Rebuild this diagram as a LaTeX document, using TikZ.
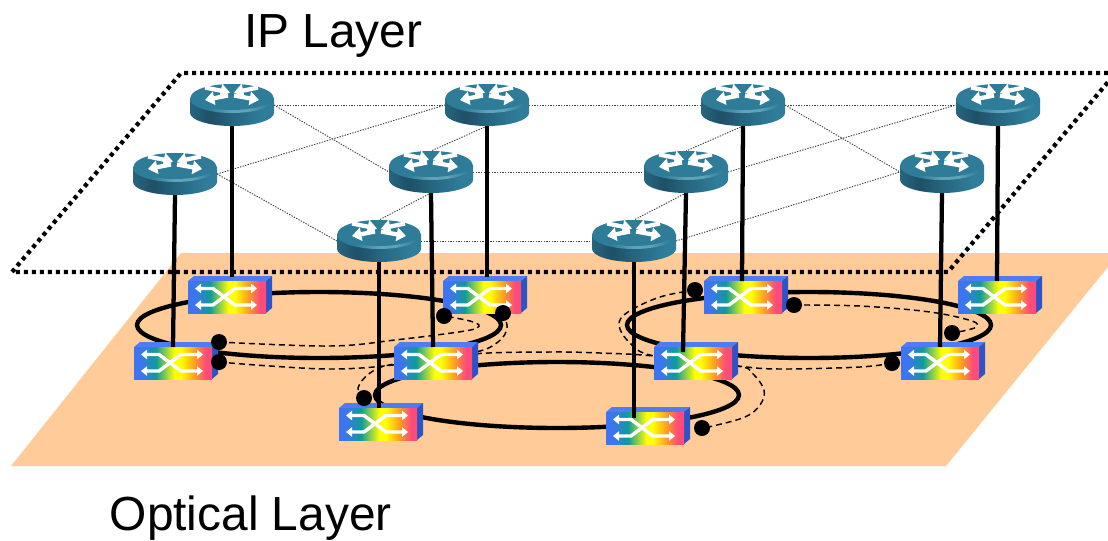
\documentclass[tikz,border=0pt]{standalone}
\usepackage{fontspec}
\setmainfont{Liberation Sans}
\usetikzlibrary{arrows.meta,shapes.geometric}
\definecolor{planeorange}{HTML}{FFCB98}
\definecolor{rtop}{HTML}{2E7C98}
\definecolor{rrim}{HTML}{5FA3B6}
\definecolor{rdark}{HTML}{1F5066}
\definecolor{rmid}{HTML}{266580}
\definecolor{rlight}{HTML}{2F7D9A}
\definecolor{oa}{HTML}{3D74F2}
\definecolor{ob}{HTML}{0F9C98}
\definecolor{oc}{HTML}{FFFF00}
\definecolor{od}{HTML}{FF9A22}
\definecolor{oe}{HTML}{FF4A7C}
\definecolor{otop}{HTML}{4F7CF2}
\definecolor{oside}{HTML}{2C54C6}
\pgfdeclarehorizontalshading{oxcgrad}{100bp}{color(0bp)=(oa); color(29bp)=(oa); color(39bp)=(ob); color(51bp)=(oc); color(55bp)=(oc); color(64bp)=(od); color(71bp)=(oe); color(100bp)=(oe)}
\pgfdeclarehorizontalshading{rbody}{100bp}{color(0bp)=(rmid); color(25bp)=(rmid); color(37bp)=(rdark); color(50bp)=(rmid); color(68bp)=(rlight); color(100bp)=(rlight)}
\pgfdeclarehorizontalshading{rimgrad}{100bp}{color(0bp)=(rtop); color(36bp)=(rtop); color(50bp)=(rrim); color(60bp)=(rrim); color(72bp)=(rtop); color(100bp)=(rtop)}
\tikzset{
  rbox/.style={rectangle,minimum width=63pt,minimum height=31.5pt,inner sep=0pt,outer sep=0pt},
  sbox/.style={rectangle,minimum width=58.5pt,minimum height=24pt,inner sep=0pt,outer sep=0pt},
  ring/.style={ellipse,draw=black,line width=3.3pt,minimum width=273pt,minimum height=49.5pt,inner sep=0pt},
  meshline/.style={black!75,line width=.7pt,dash pattern=on 1pt off 1pt},
  planeline/.style={black,line width=3.2pt,dash pattern=on 3pt off 3pt},
  dashline/.style={black,line width=1.1pt,dash pattern=on 4.5pt off 3pt},
  link/.style={black,line width=3.2pt},
  blackdot/.style={circle,minimum size=12pt,inner sep=0pt},
  layertext/.style={anchor=base west,inner sep=0pt,font=\fontsize{35.9pt}{40pt}\selectfont},
  rarrow/.style={white,line width=3.2pt,-{Triangle[length=7pt,width=10pt]}},
  sarrow/.style={white,line width=2.6pt,{Triangle[length=4.5pt,width=7pt]}-{Triangle[length=4.5pt,width=7pt]}}
}
\newcommand{\drawrouter}[1]{%
  \begin{scope}[shift={(#1.center)}]
    \shade[shading=rbody] (-42,-7) -- (-42,8) .. controls (-42,15) and (-23,21) .. (0,21)
      .. controls (23,21) and (42,15) .. (42,8) -- (42,-7) -- cycle;
    \shade[shading=rimgrad] (0,-6) ellipse [x radius=42,y radius=14];
    \fill[rtop] (0,-8) ellipse [x radius=41,y radius=13];
    \draw[rarrow] (-27,-17.5) -- (-2,-12.5);
    \draw[rarrow] (-4,-9.5) -- (-27,-5);
    \draw[rarrow] (26,-17.5) -- (2,-12.5);
    \draw[rarrow] (2,-9.5) -- (27,-5);
  \end{scope}}
\newcommand{\drawswitch}[1]{%
  \begin{scope}[shift={(#1.center)}]
    \fill[otop] (-39,-16) -- (-33,-21) -- (45,-21) -- (39,-16) -- cycle;
    \fill[oside] (39,-16) -- (45,-21) -- (45,11) -- (39,16) -- cycle;
    \shade[shading=oxcgrad] (-39,-16) rectangle (39,16);
    \draw[sarrow] (-32,-8.5) -- (-14,-8.5) -- (8,8) -- (30,8);
    \draw[sarrow] (-32,8) -- (-14,8) -- (8,-8.5) -- (30,-8.5);
  \end{scope}}
\begin{document}
\begin{tikzpicture}[x=.75pt,y=-.75pt]
\useasboundingbox (0,0) rectangle (1108,540);
% invisible anchors
\node[rbox] (r1) at (232,105) {};
\node[rbox] (r2) at (487,105) {};
\node[rbox] (r3) at (743,105) {};
\node[rbox] (r4) at (998,105) {};
\node[rbox] (r5) at (175,174) {};
\node[rbox] (r6) at (431,172) {};
\node[rbox] (r7) at (686,172) {};
\node[rbox] (r8) at (942,172) {};
\node[rbox] (r9) at (379,241) {};
\node[rbox] (r10) at (634,241) {};
\node[sbox] (s1) at (227,297) {};
\node[sbox] (s2) at (482,297) {};
\node[sbox] (s3) at (743,297) {};
\node[sbox] (s4) at (997,297) {};
\node[sbox] (s5) at (173,363) {};
\node[sbox] (s6) at (433,363) {};
\node[sbox] (s7) at (693,363) {};
\node[sbox] (s8) at (940,363) {};
\node[sbox] (s9) at (378,424) {};
\node[sbox] (s10) at (645,428) {};
\coordinate (e1) at (232,277);
\coordinate (e2) at (487,277);
\coordinate (e3) at (742,281);
\coordinate (e4) at (997,281);
\coordinate (e5) at (173,347);
\coordinate (e6) at (433,347);
\coordinate (e7) at (683,352);
\coordinate (e8) at (940,347);
\coordinate (e9) at (379,408);
\coordinate (e10) at (634,418);
\coordinate (pa) at (181,73);
\coordinate (pb) at (1108,73);
\coordinate (pc) at (12,272);
\coordinate (pd) at (948,272);
\coordinate (pe) at (1108,82);
% optical plane
\fill[planeorange] (181,253) -- (1108,253) -- (1108,267) -- (946,466) -- (11,466) -- cycle;
% IP plane outline
\draw[planeline] (pb) -- (pa) -- (pc) -- (pd) -- (pe);
% IP mesh
\draw[meshline] (r1.east) -- (r2.west);
\draw[meshline] (r2.east) -- (r3.west);
\draw[meshline] (r3.east) -- (r4.west);
\draw[meshline] (r1.east) -- (r6.west);
\draw[meshline] (r5.east) -- (r2.west);
\draw[meshline] (r5.east) -- (r9.west);
\draw[meshline] (r2.south) -- (r6.north);
\draw[meshline] (r6.south) -- (r9.north);
\draw[meshline] (r6.east) -- (r7.west);
\draw[meshline] (r9.east) -- (r10.west);
\draw[meshline] (r3.south) -- (r7.north);
\draw[meshline] (r7.south) -- (r10.north);
\draw[meshline] (r7.east) -- (r4.west);
\draw[meshline] (r10.east) -- (r8.west);
\draw[meshline] (r3.east) -- (r8.west);
% rings
\node[ring] (ring1) at (319,325) {};
\node[ring] (ring2) at (557,395) {};
\node[ring] (ring3) at (809,325) {};
% dots (named here, painted above the switches below)
\node[blackdot] (d1) at (219,342) {};
\node[blackdot] (d2) at (219,362) {};
\node[blackdot] (d3) at (444,316) {};
\node[blackdot] (d4) at (503,313) {};
\node[blackdot] (d5) at (364,398) {};
\node[blackdot] (d6) at (702,428) {};
\node[blackdot] (d7) at (695,290) {};
\node[blackdot] (d8) at (794,305) {};
\node[blackdot] (d9) at (952,333) {};
\node[blackdot] (d10) at (892,363) {};
% dashed restoration paths
\draw[dashline] plot[smooth,tension=.6] coordinates {(d1.center) (330,346) (395,340) (465,331) (479,326) (470,321) (d3.center)};
\draw[dashline] plot[smooth,tension=.6] coordinates {(d2.center) (270,366) (333,369) (393,365) (472,353) (498,342) (507,328) (d4.center)};
\draw[dashline] plot[smooth,tension=.6] coordinates {(d5.center) (358,388) (370,373) (394,364) (472,354) (550,352) (600,353) (654,356) (737,366) (752,373) (764,390) (760,405) (745,417) (713,426) (d6.center)};
\draw[dashline] plot[smooth,tension=.6] coordinates {(d7.center) (660,297) (628,312) (619,325) (630,343) (654,356) (737,366) (780,369) (860,367) (d10.center)};
\draw[dashline] plot[smooth,tension=.6] coordinates {(d8.center) (860,306) (930,312) (972,321) (976,327) (963,331) (d9.center)};
% switches
\drawswitch{s1}\drawswitch{s2}\drawswitch{s3}\drawswitch{s4}\drawswitch{s5}
\drawswitch{s6}\drawswitch{s7}\drawswitch{s8}\drawswitch{s9}\drawswitch{s10}
% router-to-switch links
\draw[link] (r1.south) -- (e1);
\draw[link] (r2.south) -- (e2);
\draw[link] (r3.south) -- (e3);
\draw[link] (r4.south) -- (e4);
\draw[link] (r5.south) -- (e5);
\draw[link] (r6.south) -- (e6);
\draw[link] (r7.south) -- (e7);
\draw[link] (r8.south) -- (e8);
\draw[link] (r9.south) -- (e9);
\draw[link] (r10.south) -- (e10);
% dots on top
\foreach \d in {d1,d2,d3,d4,d5,d6,d7,d8,d9,d10} \fill[black] (\d.center) circle [radius=8];
% routers
\drawrouter{r1}\drawrouter{r2}\drawrouter{r3}\drawrouter{r4}\drawrouter{r5}
\drawrouter{r6}\drawrouter{r7}\drawrouter{r8}\drawrouter{r9}\drawrouter{r10}
% labels
\node[layertext] (iplabel) at (244,47) {IP Layer};
\node[layertext] (oplabel) at (109.5,530) {Optical Layer};
\end{tikzpicture}
\end{document}
